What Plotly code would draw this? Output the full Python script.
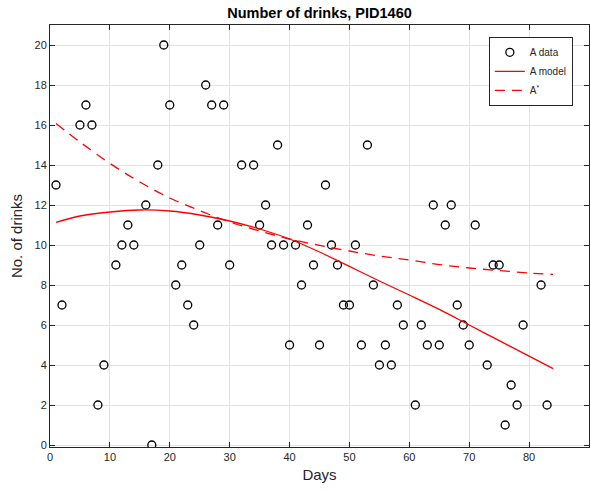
import plotly.graph_objects as go

days = [1, 2, 5, 6, 7, 8, 9, 11, 12, 13, 14, 16, 17, 18, 19, 20, 21, 22, 23, 24, 25,
        26, 27, 28, 29, 30, 32, 34, 35, 36, 37, 38, 39, 40, 41, 42, 43, 44, 45, 46,
        47, 48, 49, 50, 51, 52, 53, 54, 55, 56, 57, 58, 59, 61, 62, 63, 64, 65, 66,
        67, 68, 69, 70, 71, 73, 74, 75, 76, 77, 78, 79, 82, 83]
drinks = [13, 7, 16, 17, 16, 2, 4, 9, 10, 11, 10, 12, 0, 14, 20, 17, 8, 9, 7, 6, 10,
          18, 17, 11, 17, 9, 14, 14, 11, 12, 10, 15, 10, 5, 10, 8, 11, 9, 5, 13,
          10, 9, 7, 7, 10, 5, 15, 8, 4, 5, 4, 7, 6, 2, 6, 5, 12, 5, 11,
          12, 7, 6, 5, 11, 4, 9, 9, 1, 3, 2, 6, 8, 2]

model_days = [1, 5, 10, 15, 20, 25, 30, 35, 40, 45, 50, 55, 60, 65, 70, 75, 80, 84]
model_a = [11.13, 11.45, 11.65, 11.75, 11.7, 11.5, 11.2, 10.8, 10.3, 9.65, 8.93,
           8.2, 7.5, 6.78, 6.0, 5.22, 4.44, 3.82]
model_astar = [16.08, 15.15, 14.08, 13.15, 12.35, 11.72, 11.15, 10.7, 10.3, 9.98,
               9.7, 9.45, 9.25, 9.02, 8.85, 8.72, 8.6, 8.53]

x_ticks = list(range(0, 91, 10))
y_ticks = list(range(0, 21, 2))

fig = go.Figure()
fig.add_trace(go.Scatter(
    x=days, y=drinks, mode="markers", name="A data",
    marker=dict(symbol="circle-open", size=8, color="black", line=dict(width=1.3)),
))
fig.add_trace(go.Scatter(
    x=model_days, y=model_a, mode="lines", name="A model",
    line=dict(color="red", width=1.3, shape="spline"),
))
fig.add_trace(go.Scatter(
    x=model_days, y=model_astar, mode="lines", name="A<sup>*</sup>",
    line=dict(color="red", width=1.3, dash="10px,7px", shape="spline"),
))

axis_common = dict(
    showgrid=True, gridcolor="#e3e3e3", gridwidth=1,
    showline=True, linecolor="#262626", linewidth=1, mirror="ticks",
    ticks="inside", ticklen=5, tickcolor="#262626",
    zeroline=False,
    tickfont=dict(family="Liberation Sans, Arial, sans-serif", size=11, color="#262626"),
)

fig.update_layout(
    width=590, height=491,
    margin=dict(l=50, r=1, t=25, b=44),
    paper_bgcolor="white", plot_bgcolor="white",
    font=dict(family="Liberation Sans, Arial, sans-serif", color="#262626"),
    title=dict(text="<b>Number of drinks, PID1460</b>", x=0.5, xanchor="center",
               xref="paper", y=0.985, yanchor="top",
               font=dict(size=14.5, color="black")),
    xaxis=dict(range=[0, 90], tickvals=x_ticks,
               title=dict(text="Days", font=dict(size=15, color="#262626"), standoff=7),
               **axis_common),
    yaxis=dict(range=[-0.1, 21], tickvals=y_ticks,
               title=dict(text="No. of drinks", font=dict(size=15, color="#262626"), standoff=8),
               **axis_common),
    showlegend=True,
    legend=dict(x=0.97, y=0.972, xanchor="right", yanchor="top",
                bgcolor="white", bordercolor="#262626", borderwidth=1,
                font=dict(size=10, color="#262626"),
                tracegroupgap=0, itemwidth=30),
)

fig.write_html("out.html")
